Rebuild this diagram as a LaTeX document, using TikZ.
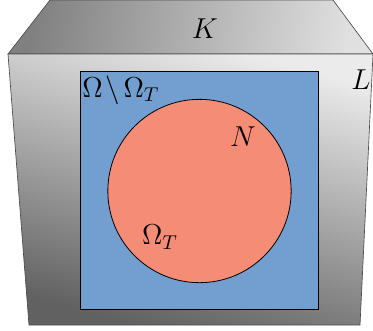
\documentclass[tikz,border=0pt]{standalone}
\usepackage{tikz}
\definecolor{skyblue}{HTML}{729FCF}
\definecolor{salmon}{HTML}{F58C76}
\tikzset{
  face/.style={draw=black!70, line width=0.5pt},
  lbl/.style={font=\Large, scale=1.5, inner sep=0pt}
}
\begin{document}
\begin{tikzpicture}[x=0.75pt,y=-0.75pt]
\useasboundingbox (0,0) rectangle (373,330);
% top face
\shade[face, left color=black!50, right color=black!12, shading angle=80]
  (50,0) -- (333,0) -- (373,54) -- (8,54) -- cycle;
% front face
\shade[face, top color=black!8, bottom color=black!62, shading angle=-15]
  (8,54) -- (373,54) -- (360,325) -- (29,325) -- cycle;
% blue square
\node[draw=black, fill=skyblue, line width=0.6pt, minimum width=178.5pt, minimum height=178.5pt, inner sep=0pt, anchor=north west] (omega) at (80,71) {};
% red circle
\node[draw=black, fill=salmon, line width=0.6pt, circle, minimum size=137.5pt, inner sep=0pt] (omegaT) at (199.5,191) {};
% labels
\node[lbl] (K) at (205,29) {$K$};
\node[lbl] (L) at (361,80) {$L$};
\node[lbl, anchor=west] (oo) at (82,90) {$\Omega\mskip-2mu\setminus\mskip-2mu\Omega_T$};
\node[lbl] (N) at (243,137) {$N$};
\node[lbl] (oT) at (160,237) {$\Omega_T$};
\end{tikzpicture}
\end{document}
